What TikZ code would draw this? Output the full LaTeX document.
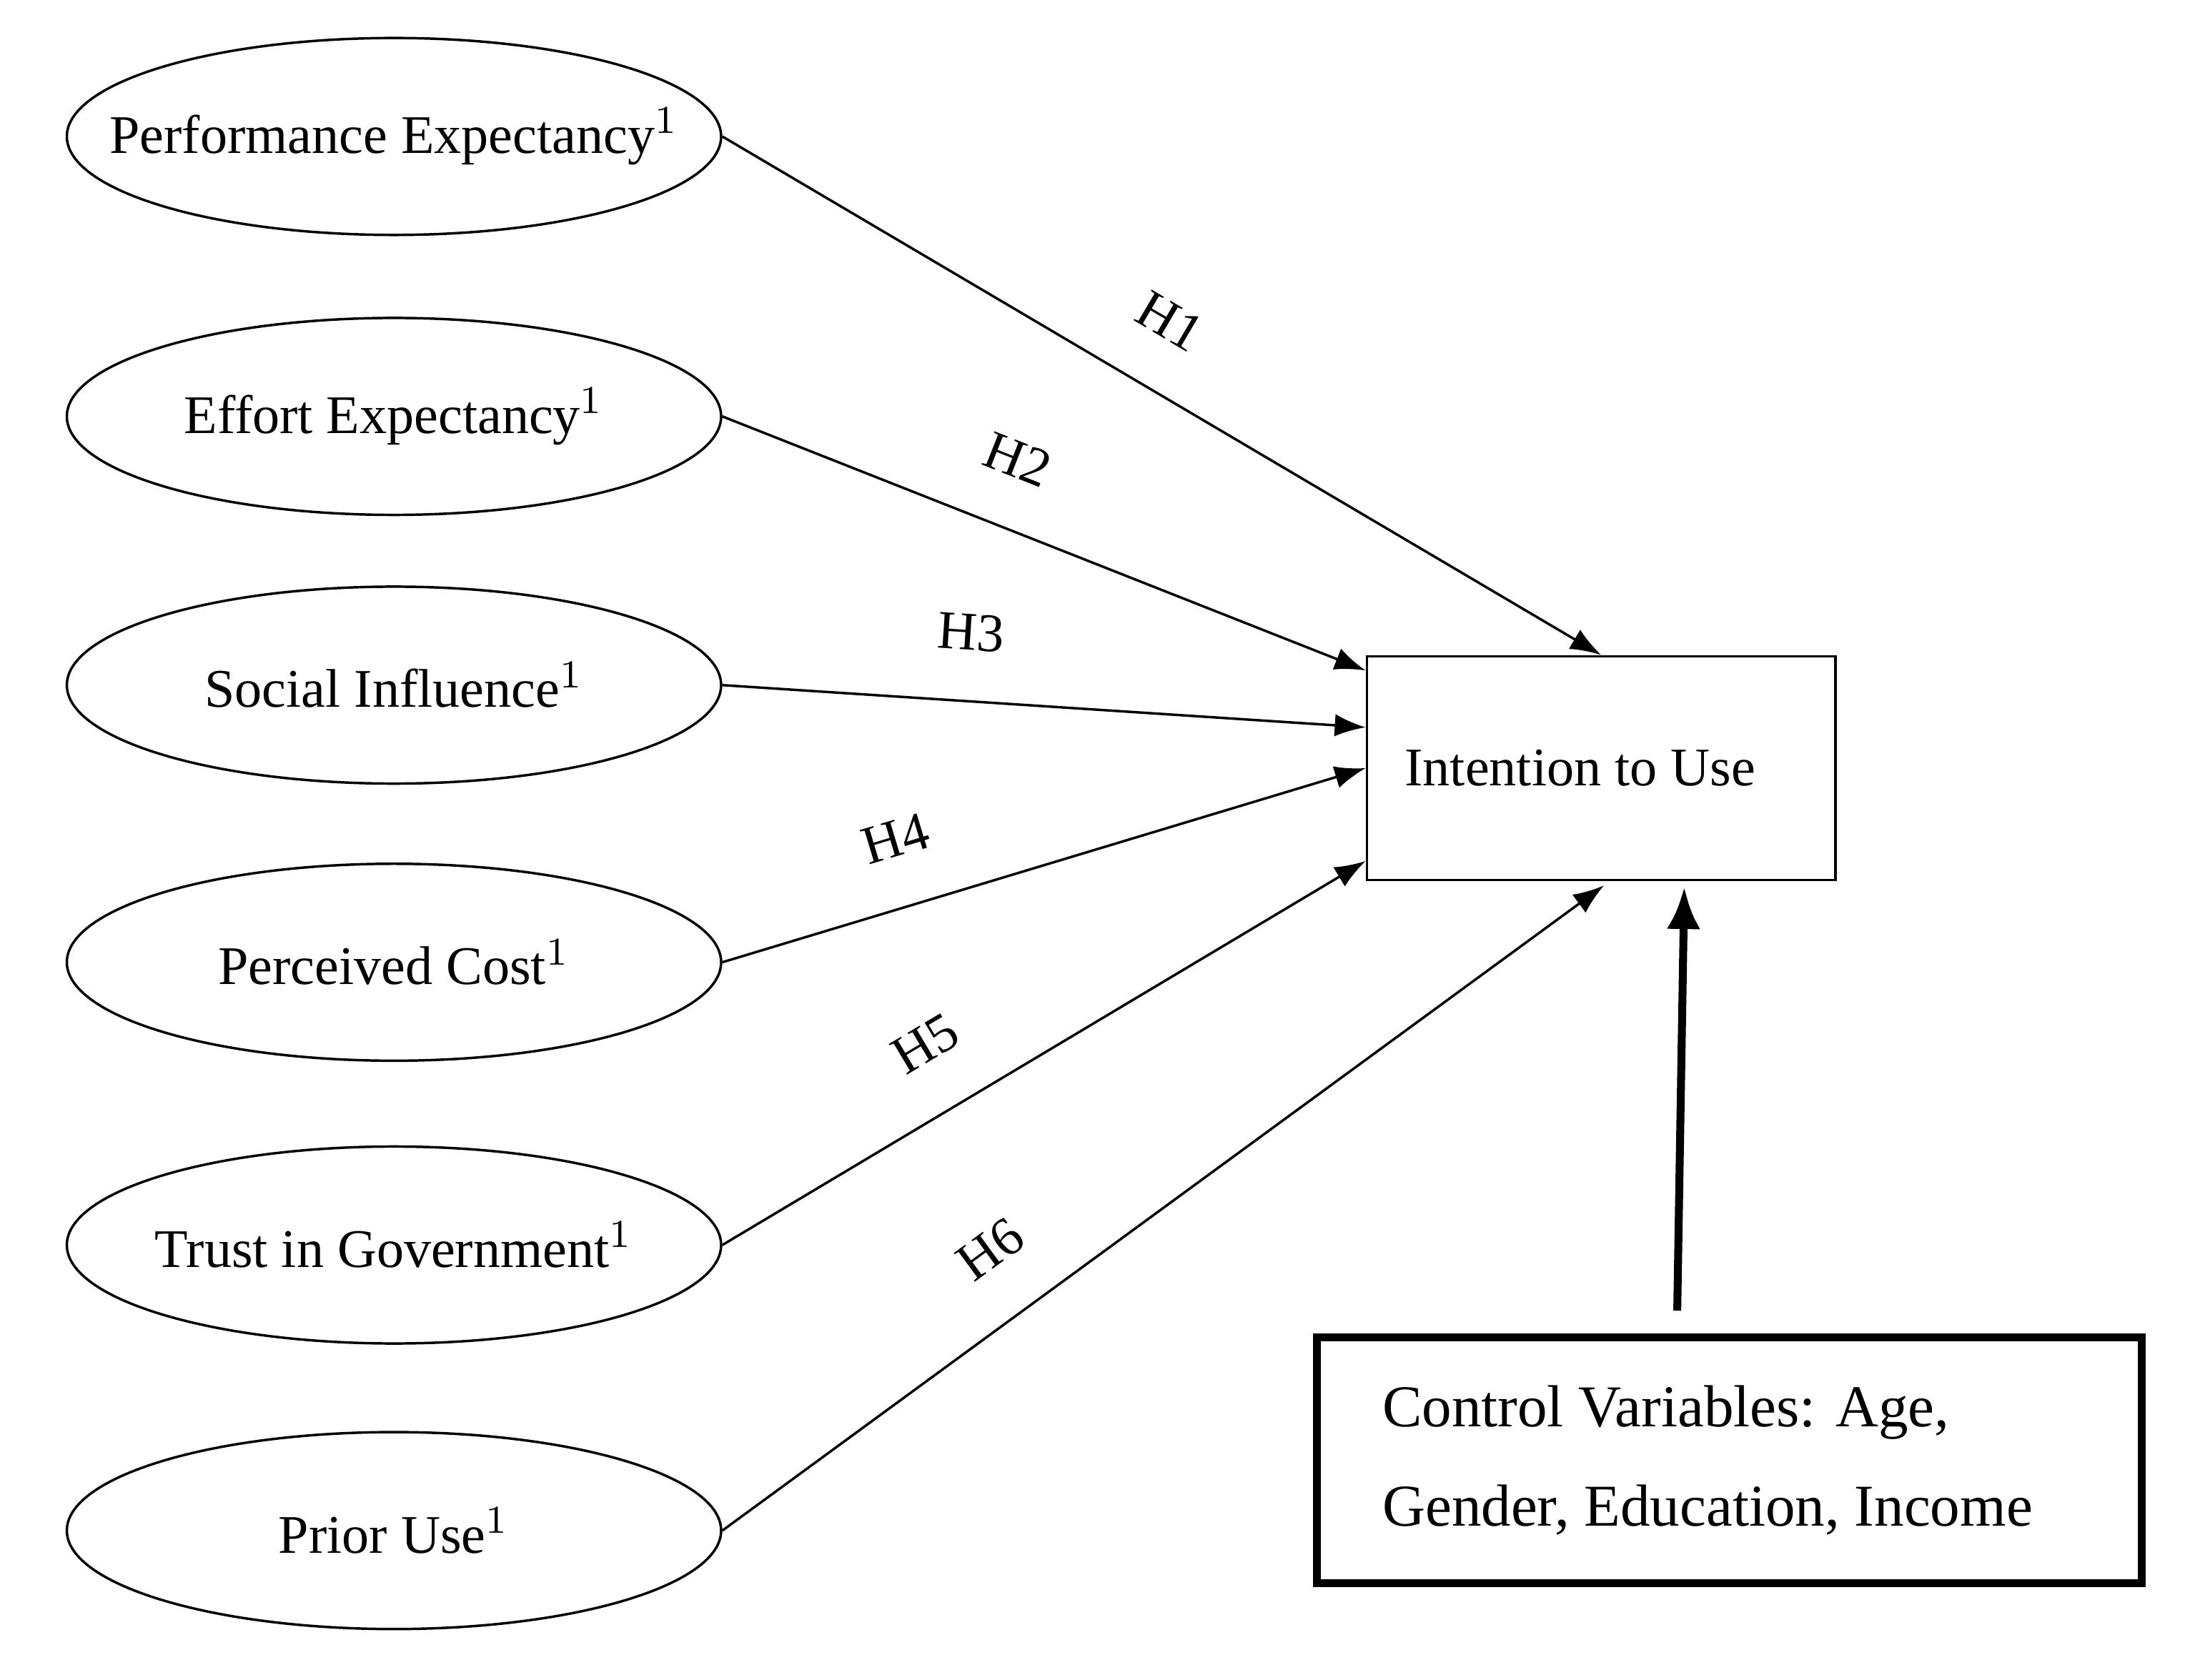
\documentclass[tikz,border=0pt]{standalone}
\usepackage{fontspec}
\setmainfont{Liberation Serif}
\usetikzlibrary{arrows.meta,shapes.geometric}

\begin{document}
\begin{tikzpicture}[x=1.0cm,y=1.0cm,
  construct/.style={draw,line width=0.5pt,ellipse,inner sep=0pt,minimum width=4.65cm,minimum height=1.4cm,font=\fontsize{11}{13}\selectfont},
  path/.style={line width=0.5pt,-{Latex[length=2.2mm,width=1.6mm]}},
  hyp/.style={sloped,above=0.35cm,inner sep=0pt,font=\fontsize{11}{13}\selectfont}]
\useasboundingbox (0,0) rectangle (15.6,-11.94);
% constructs
\node[construct] (pe) at (2.8,-0.97) {\makebox[0pt]{Performance Expectancy$^{1}$}};
\node[construct] (ee) at (2.8,-2.96) {\makebox[0pt]{Effort Expectancy$^{1}$}};
\node[construct] (si) at (2.8,-4.87) {\makebox[0pt]{Social Influence$^{1}$}};
\node[construct] (pc) at (2.8,-6.84) {\makebox[0pt]{Perceived Cost$^{1}$}};
\node[construct] (tg) at (2.8,-8.85) {\makebox[0pt]{Trust in Government$^{1}$}};
\node[construct] (pu) at (2.8,-10.88) {\makebox[0pt]{Prior Use$^{1}$}};
% outcome and controls
\node[draw,line width=0.5pt,minimum width=3.33cm,minimum height=1.59cm,font=\fontsize{11}{13}\selectfont] (itu) at (11.38,-5.46) {Intention to Use\hspace*{0.3cm}};
\node[draw,line width=1.6pt,minimum width=5.86cm,minimum height=1.75cm,align=left,font=\fontsize{12}{20}\selectfont] (cv) at (12.29,-10.38) {Control Variables: Age,\hspace*{0.9cm}\\Gender, Education, Income};
% hypotheses
\draw[path] (pe.east) -- node[hyp,pos=0.47] {H1} (itu.north);
\draw[path] (ee.east) -- node[hyp,pos=0.42] {H2} ([yshift=-0.11cm]itu.north west);
\draw[path] (si.east) -- node[hyp,pos=0.38] {H3} ([yshift=0.29cm]itu.west);
\draw[path] (pc.east) -- node[hyp,pos=0.30] {H4} (itu.west);
\draw[path] (tg.east) -- node[hyp,pos=0.37] {H5} ([yshift=-0.66cm]itu.west);
\draw[path] (pu.east) -- node[hyp,pos=0.35] {H6} ([shift={(0.02,-0.03)}]itu.south);
\draw[line width=1.6pt,-{Latex[length=3mm,width=2.4mm]}] ([shift={(-0.37,0.16)}]cv.north) -- ([shift={(0.59,-0.04)}]itu.south);
\end{tikzpicture}
\end{document}
